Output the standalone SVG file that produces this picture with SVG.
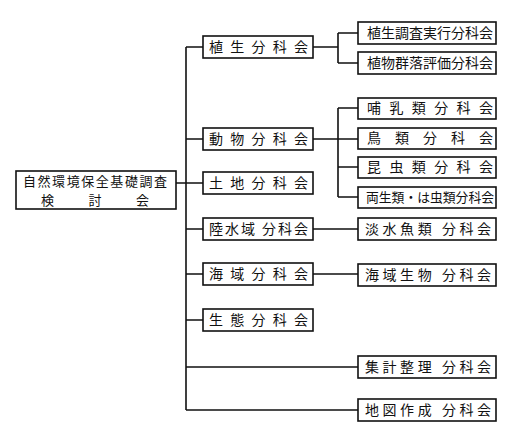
<svg xmlns="http://www.w3.org/2000/svg" width="518" height="442" viewBox="0 0 518 442">
<style>
.b{fill:#fff;stroke:#111;stroke-width:1.6}
.c{fill:none;stroke:#111;stroke-width:1.6}
text{font-family:"Noto Sans CJK JP","Noto Sans CJK SC",sans-serif;font-size:14px;fill:#111}
.r{font-size:13px}
</style>
<rect width="518" height="442" fill="#fff"/>
<g id="connectors">
<path class="c" d="M176 183H186M186 47V410M186 47H203M186 139H203M186 183H203M186 229H203M186 274H203M186 320H203M186 367H358M186 410H358"/>
<path class="c" d="M313 47H338M338 33V63M338 33H358M338 63H358"/>
<path class="c" d="M313 139H338M338 108V197M338 108H358M338 139H358M338 167H358M338 197H358"/>
<path class="c" d="M313 229H358M313 274H358"/>
</g>
<g id="root"><rect class="b" x="16" y="171" width="160" height="38"/><text class="r" x="23" y="186" textLength="144" lengthAdjust="spacing">自然環境保全基礎調査</text><text class="r" x="41" y="205" textLength="108" lengthAdjust="spacing">検 討 会</text></g>
<g id="n-shokusei"><rect class="b" x="203" y="36" width="110" height="22"/><text x="209" y="52" textLength="99" lengthAdjust="spacing">植 生 分 科 会</text></g>
<g id="n-doubutsu"><rect class="b" x="203" y="128" width="110" height="22"/><text x="209" y="144" textLength="99" lengthAdjust="spacing">動 物 分 科 会</text></g>
<g id="n-tochi"><rect class="b" x="203" y="172" width="110" height="22"/><text x="209" y="188" textLength="99" lengthAdjust="spacing">土 地 分 科 会</text></g>
<g id="n-rikusui"><rect class="b" x="203" y="218" width="110" height="22"/><text x="209" y="234" textLength="99" lengthAdjust="spacing">陸水域 分科会</text></g>
<g id="n-kaiiki"><rect class="b" x="203" y="263" width="110" height="22"/><text x="209" y="279" textLength="99" lengthAdjust="spacing">海 域 分 科 会</text></g>
<g id="n-seitai"><rect class="b" x="203" y="309" width="110" height="22"/><text x="209" y="325" textLength="99" lengthAdjust="spacing">生 態 分 科 会</text></g>
<g id="n-chousa"><rect class="b" x="358" y="22" width="138" height="22"/><text x="367" y="38" textLength="126" lengthAdjust="spacing">植生調査実行分科会</text></g>
<g id="n-gunraku"><rect class="b" x="358" y="52" width="138" height="22"/><text x="367" y="68" textLength="126" lengthAdjust="spacing">植物群落評価分科会</text></g>
<g id="n-honyu"><rect class="b" x="358" y="98" width="138" height="21"/><text x="367" y="113" textLength="126" lengthAdjust="spacing">哺 乳 類 分 科 会</text></g>
<g id="n-chorui"><rect class="b" x="358" y="128" width="138" height="21"/><text x="367" y="143" textLength="126" lengthAdjust="spacing">鳥 類 分 科 会</text></g>
<g id="n-konchu"><rect class="b" x="358" y="157" width="138" height="21"/><text x="367" y="172" textLength="126" lengthAdjust="spacing">昆 虫 類 分 科 会</text></g>
<g id="n-ryousei"><rect class="b" x="358" y="187" width="138" height="21"/><text x="366" y="202" textLength="128" lengthAdjust="spacingAndGlyphs" style="font-size:13px">両生類・は虫類分科会</text></g>
<g id="n-tansui"><rect class="b" x="358" y="218" width="138" height="22"/><text x="365" y="234" textLength="126" lengthAdjust="spacing">淡水魚類 分科会</text></g>
<g id="n-kaiikiseibutsu"><rect class="b" x="358" y="264" width="138" height="22"/><text x="365" y="280" textLength="126" lengthAdjust="spacing">海域生物 分科会</text></g>
<g id="n-shukei"><rect class="b" x="358" y="356" width="138" height="22"/><text x="365" y="372" textLength="126" lengthAdjust="spacing">集計整理 分科会</text></g>
<g id="n-chizu"><rect class="b" x="358" y="399" width="138" height="22"/><text x="365" y="415" textLength="126" lengthAdjust="spacing">地図作成 分科会</text></g>
</svg>
